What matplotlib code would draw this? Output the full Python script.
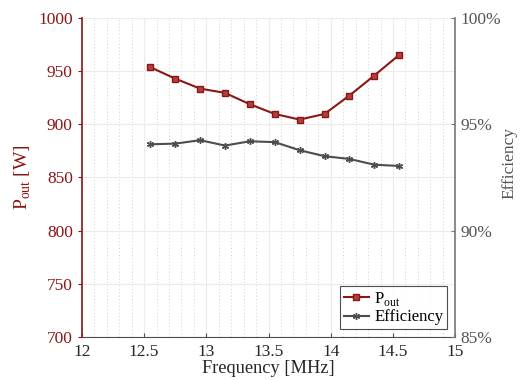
import numpy as np
import matplotlib
matplotlib.use("Agg")
import matplotlib.pyplot as plt
from matplotlib.ticker import MultipleLocator, FuncFormatter

# Data
freq = [12.55, 12.75, 12.95, 13.15, 13.35, 13.55, 13.75, 13.95, 14.15, 14.35, 14.55]   # MHz
pout = [953.6, 942.9, 933.5, 929.5, 918.8, 909.7, 904.4, 909.7, 927.0, 945.8, 965.2]   # W
eff = [94.06, 94.09, 94.25, 94.0, 94.2, 94.16, 93.78, 93.5, 93.37, 93.1, 93.04]        # %

red = '#8c1515'
gray = '#4d4d4d'

plt.rcParams['font.family'] = ['Liberation Serif', 'DejaVu Serif']
plt.rcParams['mathtext.fontset'] = 'custom'
plt.rcParams['mathtext.rm'] = 'Liberation Serif'

fig = plt.figure(figsize=(5.25, 3.8), dpi=100)
ax = fig.add_axes([0.156, 0.113, 0.711, 0.84])
ax2 = ax.twinx()

# grid
ax.xaxis.set_minor_locator(MultipleLocator(0.1))
ax.xaxis.set_major_locator(MultipleLocator(0.5))
ax.grid(which='major', color='#ececec', lw=0.8, ls='-')
ax.grid(which='minor', axis='x', color='#cfcfcf', lw=0.7, ls=(0, (1, 2.5)))
ax.set_axisbelow(True)

l1, = ax.plot(freq, pout, '-s', color=red, lw=1.5, ms=4, mfc='#b04040', mec=red, mew=1.0)
l2, = ax2.plot(freq, eff, '-', color=gray, lw=1.5, marker=(6, 2, 0), ms=5, mew=1.0)

ax.set_xlim(12, 15)
ax.set_ylim(700, 1000)
ax2.set_ylim(85, 100)
ax.yaxis.set_major_locator(MultipleLocator(50))
ax2.yaxis.set_major_locator(MultipleLocator(5))
ax2.yaxis.set_major_formatter(FuncFormatter(lambda v, p: '%d%%' % v))
ax.xaxis.set_major_formatter(FuncFormatter(lambda v, p: ('%g' % v)))

for a in (ax, ax2):
    a.spines['top'].set_visible(False)
ax.spines['left'].set_color(red)
ax.spines['left'].set_linewidth(1.2)
ax.spines['bottom'].set_color(gray)
ax.spines['right'].set_visible(False)
ax2.spines['left'].set_visible(False)
ax2.spines['bottom'].set_visible(False)
ax2.spines['right'].set_color('#777777')
ax2.spines['right'].set_linewidth(1.2)

ax.tick_params(axis='y', which='both', colors=red, labelsize=12.5, length=3, direction='out')
ax.tick_params(axis='x', which='major', colors=gray, labelcolor='#262626', labelsize=12.5,
               length=3, direction='in', pad=5)
ax.tick_params(axis='x', which='minor', length=0)
ax2.tick_params(axis='y', colors='#777777', labelcolor='#555555', labelsize=12.5, length=3, direction='in')

ax.set_xlabel('Frequency [MHz]', fontsize=13.2, color='#262626', labelpad=0)
ax.set_ylabel(r'P$_{\rm out}$ [W]', fontsize=14, color=red, labelpad=4)
ax2.set_ylabel('Efficiency', fontsize=12.5, color='#555555', labelpad=4)
ax2.yaxis.set_label_coords(1.125, 0.545)

leg = ax.legend([l1, l2], [r'P$_{\rm out}$', 'Efficiency'], loc='lower right',
                fontsize=12, frameon=True, fancybox=False, handlelength=1.55,
                borderpad=0.2, labelspacing=0.1, handletextpad=0.3,
                borderaxespad=0.5)
leg.get_frame().set_edgecolor('#222222')
leg.get_frame().set_linewidth(0.8)

fig.savefig('out.png', dpi=100)
